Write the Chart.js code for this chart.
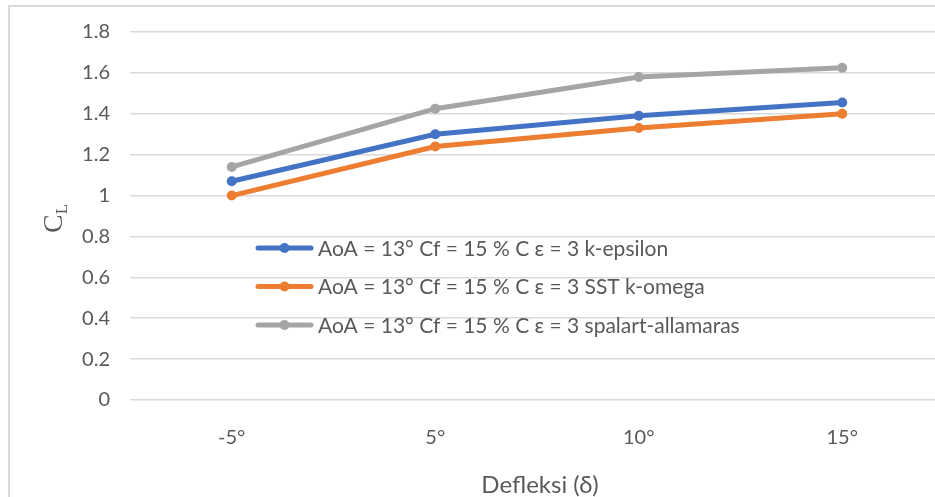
<!DOCTYPE html>
<html>
<head>
<meta charset="utf-8">
<script src="https://cdn.jsdelivr.net/npm/chart.js@4"></script>
<style>
  html, body { margin: 0; padding: 0; background: #fff; overflow: hidden; }
  #wrap { width: 960px; height: 497px; position: relative; }
</style>
</head>
<body>
<div id="wrap"><canvas id="c" width="960" height="497"></canvas></div>
<script>
// Flap deflection angles (category axis)
const categories = ['-5°', '5°', '10°', '15°'];

// Lift coefficient C_L per turbulence model
const kEpsilon        = [1.07, 1.30, 1.39, 1.455];
const sstKOmega       = [1.00, 1.24, 1.33, 1.40];
const spalartAllmaras = [1.14, 1.425, 1.58, 1.625];

const seriesLabels = [
  'AoA = 13° Cf = 15 % C ε = 3 k-epsilon',
  'AoA = 13° Cf = 15 % C ε = 3 SST k-omega',
  'AoA = 13° Cf = 15 % C ε = 3 spalart-allamaras'
];
const seriesColors = ['#4472C4', '#ED7D31', '#A5A5A5'];

// Value axis range
const yMin = 0, yMax = 1.8, yStep = 0.2;

const xTitle = 'Defleksi (δ)';
const textColor = '#595959';
const fontFamily = 'Lato, "Open Sans", sans-serif';

// Outer frame around the whole chart
const framePlugin = {
  id: 'frame',
  beforeDraw(chart) {
    const ctx = chart.ctx;
    ctx.save();
    ctx.fillStyle = '#fff';
    ctx.fillRect(0, 0, chart.width, chart.height);
    ctx.strokeStyle = '#d9d9d9';
    ctx.lineWidth = 2;
    ctx.strokeRect(9, 6, 2000, 2000);
    ctx.restore();
  }
};

// Legend drawn inside the plot area, under the curves
const innerLegendPlugin = {
  id: 'innerLegend',
  afterDatasetsDraw(chart) {
    const ctx = chart.ctx;
    ctx.save();
    chart.data.datasets.forEach((ds, i) => {
      const y = 248 + i * 38.5;
      ctx.strokeStyle = ds.borderColor;
      ctx.lineWidth = 5;
      ctx.lineCap = 'round';
      ctx.beginPath();
      ctx.moveTo(258, y);
      ctx.lineTo(311, y);
      ctx.stroke();
      ctx.fillStyle = ds.borderColor;
      ctx.beginPath();
      ctx.arc(284.5, y, 5, 0, Math.PI * 2);
      ctx.fill();
      ctx.fillStyle = textColor;
      ctx.font = '21px ' + fontFamily;
      ctx.textBaseline = 'middle';
      ctx.textAlign = 'left';
      ctx.fillText(ds.label, 318, y + 1);
    });
    ctx.restore();
  }
};

// Axis titles: C with subscript L (rotated) and the deflection label
const axisTitlePlugin = {
  id: 'axisTitles',
  afterDraw(chart) {
    const ctx = chart.ctx;
    ctx.save();
    ctx.fillStyle = textColor;
    ctx.textAlign = 'center';
    ctx.textBaseline = 'alphabetic';
    ctx.font = '24px ' + fontFamily;
    const area = chart.chartArea;
    ctx.fillText(xTitle, (area.left + area.right) / 2 + 3, 493);

    ctx.translate(62, 233);
    ctx.rotate(-Math.PI / 2);
    ctx.textAlign = 'left';
    ctx.font = '28px "Liberation Serif", "DejaVu Serif", serif';
    ctx.fillText('C', 0, 0);
    const w = ctx.measureText('C').width;
    ctx.font = '17px "Liberation Serif", "DejaVu Serif", serif';
    ctx.fillText('L', w, 5);
    ctx.restore();
  }
};

new Chart(document.getElementById('c'), {
  type: 'line',
  data: {
    labels: categories,
    datasets: [
      { label: seriesLabels[0], data: kEpsilon, borderColor: seriesColors[0], backgroundColor: seriesColors[0] },
      { label: seriesLabels[1], data: sstKOmega, borderColor: seriesColors[1], backgroundColor: seriesColors[1] },
      { label: seriesLabels[2], data: spalartAllmaras, borderColor: seriesColors[2], backgroundColor: seriesColors[2] }
    ].map(d => Object.assign(d, {
      borderWidth: 5,
      pointRadius: 5,
      pointHoverRadius: 5,
      pointBorderWidth: 0,
      tension: 0,
      fill: false
    }))
  },
  options: {
    responsive: false,
    devicePixelRatio: 1,
    animation: false,
    events: [],
    layout: { padding: { top: 31, right: 16, left: 0, bottom: 0 } },
    plugins: {
      legend: { display: false },
      tooltip: { enabled: false }
    },
    scales: {
      x: {
        type: 'category',
        offset: true,
        grid: { display: false, drawTicks: false },
        border: { display: false },
        ticks: { color: textColor, font: { family: fontFamily, size: 20 }, padding: 26, maxRotation: 0 },
        afterFit(s) { s.height = 97; }
      },
      y: {
        min: yMin,
        max: yMax,
        ticks: {
          stepSize: yStep,
          color: textColor,
          font: { family: fontFamily, size: 20 },
          padding: 20,
          callback: v => String(Math.round(v * 10) / 10)
        },
        grid: { color: '#d9d9d9', lineWidth: 1.5, drawTicks: false },
        border: { display: false },
        afterFit(s) { s.width = 130; }
      }
    }
  },
  plugins: [framePlugin, innerLegendPlugin, axisTitlePlugin]
});
</script>
</body>
</html>
